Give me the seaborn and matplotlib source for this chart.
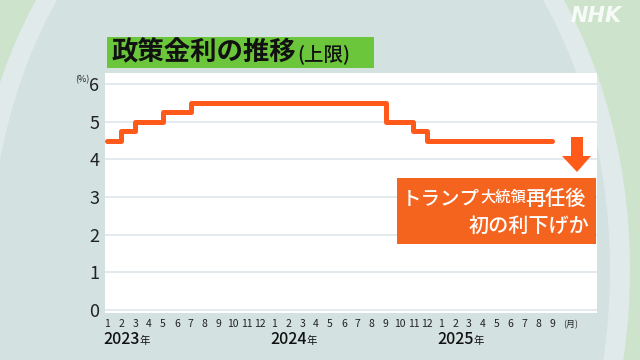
import matplotlib
matplotlib.use("Agg")
import matplotlib.pyplot as plt
import seaborn as sns
import numpy as np
import pandas as pd
from matplotlib.patches import Rectangle, Ellipse, Polygon
import matplotlib.transforms as mtransforms

# ---- data ----
years = [2023, 2024, 2025]
month_labels = [str(m) for m in range(1, 13)] * 2 + [str(m) for m in range(1, 10)]
rate_upper = [4.50, 4.75, 5.00, 5.00, 5.25, 5.25, 5.50, 5.50, 5.50, 5.50, 5.50, 5.50,
              5.50, 5.50, 5.50, 5.50, 5.50, 5.50, 5.50, 5.50, 5.00, 5.00, 4.75, 4.50,
              4.50, 4.50, 4.50, 4.50, 4.50, 4.50, 4.50, 4.50, 4.50]
y_ticks = [0, 1, 2, 3, 4, 5, 6]
title = "政策金利の推移"
title_sub = "(上限)"
note1a, note1b, note1c = "トランプ", "大統領", "再任後"
note2 = "初の利下げか"

df = pd.DataFrame({"idx": np.arange(len(rate_upper)), "rate": rate_upper})

sns.set_theme(style="white")
plt.rcParams['font.family'] = ['Noto Sans CJK JP', 'DejaVu Sans']

W, H = 640, 360
fig = plt.figure(figsize=(6.4, 3.6), dpi=100)
fig.patch.set_facecolor("#cde3cb")

# background decoration
bg = fig.add_axes([0, 0, 1, 1], zorder=-10)
bg.set_xlim(0, W); bg.set_ylim(H, 0); bg.axis("off")
bg.add_patch(Rectangle((0, 0), W, H, facecolor="#cde3cb", edgecolor="none"))
bg.add_patch(Ellipse((300, 270), 660, 900, facecolor="#e0eaea", edgecolor="none"))
bg.add_patch(Ellipse((300, 270), 620, 870, facecolor="#d4e1e1", edgecolor="none"))

# overlay for text and shapes on top
ov = fig.add_axes([0, 0, 1, 1], zorder=10)
ov.set_xlim(0, W); ov.set_ylim(H, 0); ov.axis("off")
ov.patch.set_alpha(0)
ov.text(596, 16, "NHK", fontsize=15, fontweight="bold", style="italic",
        color="white", alpha=0.85, ha="center", va="center", family="DejaVu Sans")

# title box
ov.add_patch(Rectangle((107, 37), 267, 31, facecolor="#6cc63c", edgecolor="none"))
t = ov.text(111, 53, title, fontsize=19, color="#111111", va="center", ha="left", fontweight="bold")
ov.annotate(title_sub, xy=(1, 0.45), xycoords=t, xytext=(1, 0), textcoords="offset points",
            fontsize=14, color="#111111", va="center", ha="left", fontweight="medium")

# main axes
ax = fig.add_axes([105 / W, 1 - 313 / H, (597 - 105) / W, (313 - 73) / H])
ax.set_facecolor("white")
sns.lineplot(data=df, x="idx", y="rate", ax=ax, color="#ff5a1a", linewidth=3.6,
             drawstyle="steps-post", legend=False)
ax.set_xlim(-0.17, 35.2)
ax.set_ylim(-0.09, 6.3)
ax.set_yticks(y_ticks)
ax.set_yticklabels([str(v) for v in y_ticks], fontsize=13, color="#222222")
ax.yaxis.grid(True, color="#dde6ea", linewidth=1.2)
ax.xaxis.grid(False)
ax.set_xticks(range(len(month_labels)))
ax.set_xticklabels(month_labels, fontsize=7.5, color="#222222")
ax.tick_params(axis="x", length=3, color="white", width=1, pad=1.5, direction="out")
ax.tick_params(axis="y", length=0, pad=4)
for s in ax.spines.values():
    s.set_visible(False)
ax.set_xlabel(""); ax.set_ylabel("")

tr = mtransforms.blended_transform_factory(ax.transData, ax.transAxes)
ax.text(32.75, -0.03, "(月)", transform=tr, fontsize=6.5, color="#222222", ha="left", va="top")
for i, yr in enumerate(years):
    ty = ax.text(i * 12 - 0.3, -0.075, str(yr), transform=tr, fontsize=11.5, color="#111111",
                 ha="left", va="top", fontweight="medium")
    ax.annotate("年", xy=(1, 0.12), xycoords=ty, fontsize=7.5, color="#111111", ha="left", va="bottom")
ov.text(89, 80, "(%)", fontsize=6.5, color="#222222", ha="right", va="center")

# annotation box and arrow
ov.add_patch(Rectangle((397, 178), 199, 66, facecolor="#f5641e", edgecolor="none"))
ov.add_patch(Polygon([(571, 137), (583, 137), (583, 156), (591, 156), (577, 172),
                      (562, 156), (571, 156)], closed=True, facecolor="#ff5a1a", edgecolor="none"))
a1 = ov.text(402, 199, note1a, fontsize=14, color="white", ha="left", va="center", fontweight="medium")
a2 = ov.annotate(note1b, xy=(1, 0.16), xycoords=a1, fontsize=11, color="white", ha="left",
                 va="bottom", fontweight="medium")
ov.annotate(note1c, xy=(1, 0), xycoords=a2, xytext=(0, -2.8), textcoords="offset points",
            fontsize=14.5, color="white", ha="left", va="bottom", fontweight="medium")
ov.text(589, 226, note2, fontsize=14.5, color="white", ha="right", va="center", fontweight="medium")

fig.savefig("out.png", dpi=100, facecolor=fig.get_facecolor())
